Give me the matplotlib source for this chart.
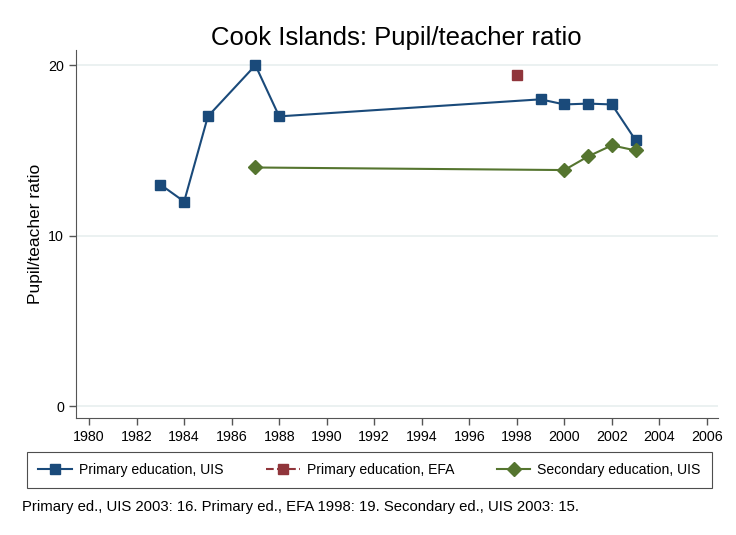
import matplotlib.pyplot as plt
from matplotlib.lines import Line2D

plt.rcParams['font.family'] = ['Liberation Sans', 'DejaVu Sans']

# Primary education, UIS
prim_uis_years = [1983, 1984, 1985, 1987, 1988, 1999, 2000, 2001, 2002, 2003]
prim_uis_vals = [13, 12, 17, 20, 17, 18.0, 17.7, 17.75, 17.7, 15.6]

# Primary education, EFA
prim_efa_years = [1998]
prim_efa_vals = [19.4]

# Secondary education, UIS
sec_uis_years = [1987, 2000, 2001, 2002, 2003]
sec_uis_vals = [14.0, 13.85, 14.65, 15.3, 15.0]

x_ticks = list(range(1980, 2007, 2))
y_ticks = [0, 10, 20]

title = "Cook Islands: Pupil/teacher ratio"
note = "Primary ed., UIS 2003: 16. Primary ed., EFA 1998: 19. Secondary ed., UIS 2003: 15."

blue = '#1a4a7a'
red = '#90353b'
green = '#55752f'
axis_col = '#555555'

fig = plt.figure(figsize=(7.36, 5.35), dpi=100)
ax = fig.add_axes([0.1033, 0.2187, 0.872, 0.688])

for y in y_ticks:
    ax.axhline(y, color='#e8efef', lw=1.2, zorder=0)

ax.plot(prim_uis_years, prim_uis_vals, color=blue, lw=1.5, marker='s', ms=7, zorder=3)
ax.plot(prim_efa_years, prim_efa_vals, color=red, lw=1.5, ls='--', marker='s', ms=7, zorder=3)
ax.plot(sec_uis_years, sec_uis_vals, color=green, lw=1.5, marker='D', ms=7, zorder=3)

ax.set_xlim(1979.45, 2006.46)
ax.set_ylim(-0.7, 20.9)
ax.set_xticks(x_ticks)
ax.set_yticks(y_ticks)
ax.tick_params(axis='both', labelsize=10.3, color=axis_col, length=5, width=1)
for s in ['top', 'right']:
    ax.spines[s].set_visible(False)
for s in ['left', 'bottom']:
    ax.spines[s].set_color(axis_col)
ax.set_ylabel("Pupil/teacher ratio", fontsize=12.5, labelpad=4)
fig.text(0.538, 0.929, title, ha='center', va='center', fontsize=18.5)

handles = [
    Line2D([], [], color=blue, lw=1.5, marker='s', ms=7),
    Line2D([], [], color=red, lw=1.5, ls='--', marker='s', ms=7),
    Line2D([], [], color=green, lw=1.5, marker='D', ms=7),
]
labels = ["Primary education, UIS", "Primary education, EFA", "Secondary education, UIS"]
leg = fig.legend(handles, labels, loc='lower left',
                 bbox_to_anchor=(27 / 736, 47 / 535, 685 / 736, 36 / 535),
                 mode='expand', ncol=3, fontsize=10.1, frameon=True, fancybox=False,
                 edgecolor='#222222', handlelength=2.4, handletextpad=0.5,
                 borderpad=0.8, borderaxespad=0)
leg.get_frame().set_linewidth(0.8)

fig.text(0.03, 0.052, note, fontsize=10.7, ha='left', va='center')

fig.savefig('out.png', dpi=100)
